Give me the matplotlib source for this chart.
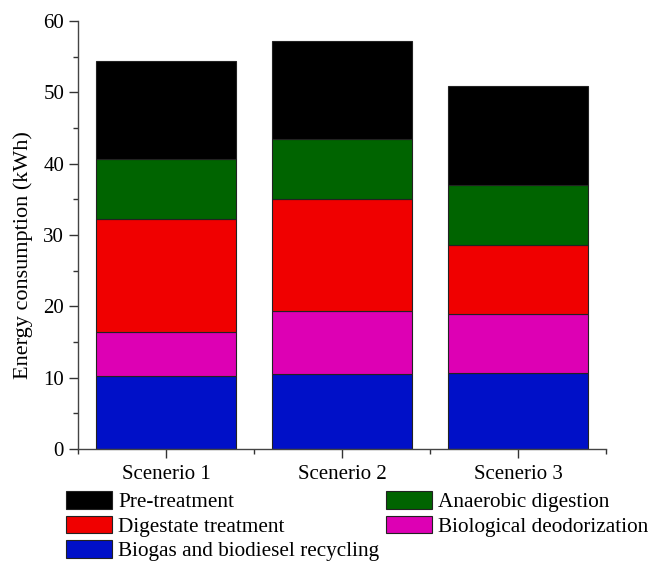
import matplotlib
matplotlib.use("Agg")
import matplotlib.pyplot as plt
import numpy as np

plt.rcParams['font.family'] = ['Liberation Serif', 'DejaVu Serif']

# data (kWh)
scenarios = ['Scenerio 1', 'Scenerio 2', 'Scenerio 3']
biogas = [10.28, 10.5, 10.6]
deodor = [6.17, 8.85, 8.3]
digestate = [15.8, 15.65, 9.65]
anaerobic = [8.4, 8.5, 8.45]
pretreat = [13.75, 13.75, 13.93]

fig = plt.figure(figsize=(6.49, 5.66), dpi=100)
ax = fig.add_axes([78 / 649, 1 - 449 / 566, 528 / 649, 428 / 566])

x = np.arange(1, len(scenarios) + 1)
w = 0.8
ec = '#222222'
bottom = np.zeros(len(x))
layers = [
    (biogas, '#0010c8', 'Biogas and biodiesel recycling'),
    (deodor, '#dd00b4', 'Biological deodorization'),
    (digestate, '#f00000', 'Digestate treatment'),
    (anaerobic, '#006400', 'Anaerobic digestion'),
    (pretreat, '#000000', 'Pre-treatment'),
]
bars = {}
for vals, col, lab in layers:
    b = ax.bar(x, vals, w, bottom=bottom, color=col, edgecolor=ec, linewidth=0.8, label=lab)
    bars[lab] = b
    bottom += np.array(vals)

ax.set_xlim(0.5, 3.5)
ax.set_ylim(0, 60)
ax.set_yticks(np.arange(0, 61, 10))
ax.set_yticks(np.arange(0, 61, 5), minor=True)
ax.set_xticks(x)
ax.set_xticklabels(scenarios)
ax.set_xticks([0.5, 1.5, 2.5, 3.5], minor=True)
ax.tick_params(axis='both', which='major', direction='out', length=6.5, width=1, labelsize=15, color='#333333')
ax.tick_params(axis='both', which='minor', direction='out', length=3.5, width=1, color='#333333')
ax.tick_params(axis='x', which='major', pad=5)
ax.set_ylabel('Energy consumption (kWh)', fontsize=16)
ax.yaxis.set_label_coords(-0.085, 0.453)
for s in ['top', 'right']:
    ax.spines[s].set_visible(False)
for s in ['left', 'bottom']:
    ax.spines[s].set_color('#444444')
    ax.spines[s].set_linewidth(1)

order = ['Pre-treatment', 'Digestate treatment', 'Biogas and biodiesel recycling',
         'Anaerobic digestion', 'Biological deodorization']
fig.legend([bars[k] for k in order], order, loc='upper left',
           bbox_to_anchor=(66 / 649, 1 - 491 / 566), ncol=2, frameon=False,
           fontsize=15.3, borderpad=0, handlelength=2.17, handleheight=0.9,
           handletextpad=0.28, labelspacing=0.16, columnspacing=0.33, borderaxespad=0)

fig.savefig('out.png', dpi=100)
